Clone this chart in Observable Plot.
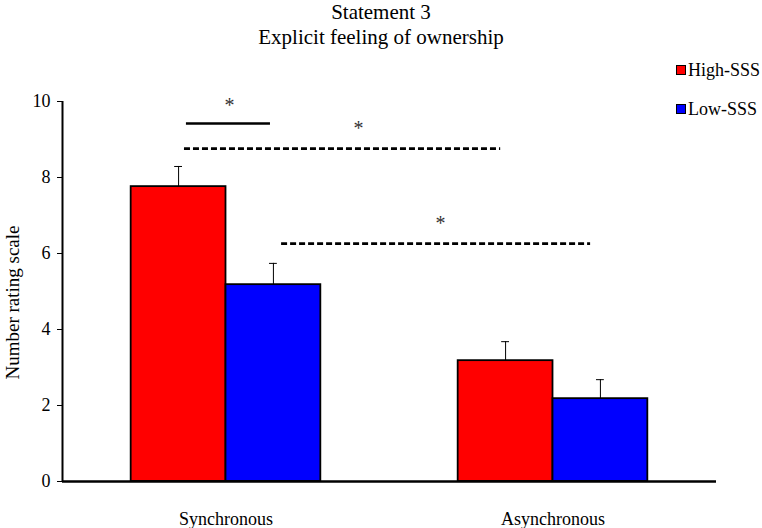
<!DOCTYPE html>
<html>
<head>
<meta charset="utf-8">
<script src="https://cdn.jsdelivr.net/npm/d3@7"></script>
<script src="https://cdn.jsdelivr.net/npm/@observablehq/plot@0.6"></script>
<style>
  html, body { margin: 0; padding: 0; background: #fff; }
  body { width: 762px; height: 528px; position: relative; overflow: hidden; font-family: "Liberation Serif", serif; color: #000; }
  #title { text-align: center; font-size: 21px; line-height: 25px; height: 50px; }
  #legend { position: absolute; left: 676px; top: 0; font-size: 18px; }
  .item { position: absolute; left: 0; white-space: nowrap; display: flex; align-items: center; height: 20px; }
  .sw { width: 8px; height: 8px; border: 1.5px solid #000; margin-right: 2px; }
  #chart svg, #chart svg text { font-family: "Liberation Serif", serif !important; }
</style>
</head>
<body>
<div id="title"><div>Statement 3</div><div>Explicit feeling of ownership</div></div>
<div id="legend"></div>
<div id="chart"></div>
<script>
// ---- data ----
const conditions = ["Synchronous", "Asynchronous"];
const groups = ["High-SSS", "Low-SSS"];
const colors = ["#ff0000", "#0000ff"];
const highMeans = [7.76, 3.18];
const lowMeans = [5.18, 2.18];
const highErr = [0.53, 0.50];
const lowErr = [0.56, 0.50];
const yTicks = [0, 2, 4, 6, 8, 10];
// significance brackets (x in condition units, y in rating units)
const solidLines = [
  {x1: -0.121, x2: 0.136, y: 9.42}
];
const dashedLines = [
  {x1: -0.127, x2: 0.840, y: 8.76},
  {x1: 0.170, x2: 1.115, y: 6.26}
];
const sigStars = [
  {x: 0.011, y: 9.88, label: "*"},
  {x: 0.405, y: 9.30, label: "*"},
  {x: 0.656, y: 6.80, label: "*"}
];

// ---- build table ----
const barW = 0.29;
const rows = [];
conditions.forEach((c, i) => {
  rows.push({cond: c, i, group: groups[0], mean: highMeans[i], err: highErr[i], x1: i - barW, x2: i, xc: i - barW / 2});
  rows.push({cond: c, i, group: groups[1], mean: lowMeans[i], err: lowErr[i], x1: i, x2: i + barW, xc: i + barW / 2});
});
const capHalf = 0.012;
const serif = "Liberation Serif";

const plot = Plot.plot({
  width: 762,
  height: 478,
  marginLeft: 62,
  marginRight: 46,
  marginTop: 51,
  marginBottom: 47,
  style: "font-family: 'Liberation Serif', serif; font-size: 18px; color: #000; background: #fff;",
  x: {domain: [-0.5, 1.5]},
  y: {domain: [0, 10]},
  color: {domain: groups, range: colors},
  marks: [
    Plot.rect(rows, {x1: "x1", x2: "x2", y1: 0, y2: "mean", fill: "group", stroke: "#000", strokeWidth: 1.8}),
    Plot.ruleX(rows, {x: "xc", y1: "mean", y2: d => d.mean + d.err, stroke: "#000", strokeWidth: 1}),
    Plot.ruleY(rows, {y: d => d.mean + d.err, x1: d => d.xc - capHalf, x2: d => d.xc + capHalf, stroke: "#000", strokeWidth: 1}),
    Plot.ruleY(solidLines, {y: "y", x1: "x1", x2: "x2", stroke: "#000", strokeWidth: 2.5}),
    Plot.ruleY(dashedLines, {y: "y", x1: "x1", x2: "x2", stroke: "#000", strokeWidth: 2.8, strokeDasharray: "6,3"}),
    Plot.text(sigStars, {x: "x", y: "y", text: "label", fontSize: 20, fill: "#333", fontFamily: serif}),
    Plot.axisY({ticks: yTicks, tickSize: 5, tickPadding: 7, label: null, fontFamily: serif, fontSize: 18}),
    Plot.axisX({ticks: [0, 1], tickFormat: i => conditions[i], tickSize: 0, tickPadding: 31, label: null, fontFamily: serif, fontSize: 18}),
    Plot.ruleX([-0.5], {y1: 0, y2: 10, stroke: "#000", strokeWidth: 2}),
    Plot.ruleY([0], {stroke: "#000", strokeWidth: 2.5}),
    Plot.text(["Number rating scale"], {frameAnchor: "left", rotate: -90, textAnchor: "middle", dx: -50, dy: 11, fontSize: 19, fontFamily: serif})
  ]
});
document.getElementById("chart").appendChild(plot);

// legend
const legend = document.getElementById("legend");
const legendTops = [60, 99];
groups.forEach((g, k) => {
  const item = document.createElement("div");
  item.className = "item";
  item.style.top = legendTops[k] + "px";
  const sw = document.createElement("div");
  sw.className = "sw";
  sw.style.background = colors[k];
  item.appendChild(sw);
  item.appendChild(document.createTextNode(g));
  legend.appendChild(item);
});
</script>
</body>
</html>
